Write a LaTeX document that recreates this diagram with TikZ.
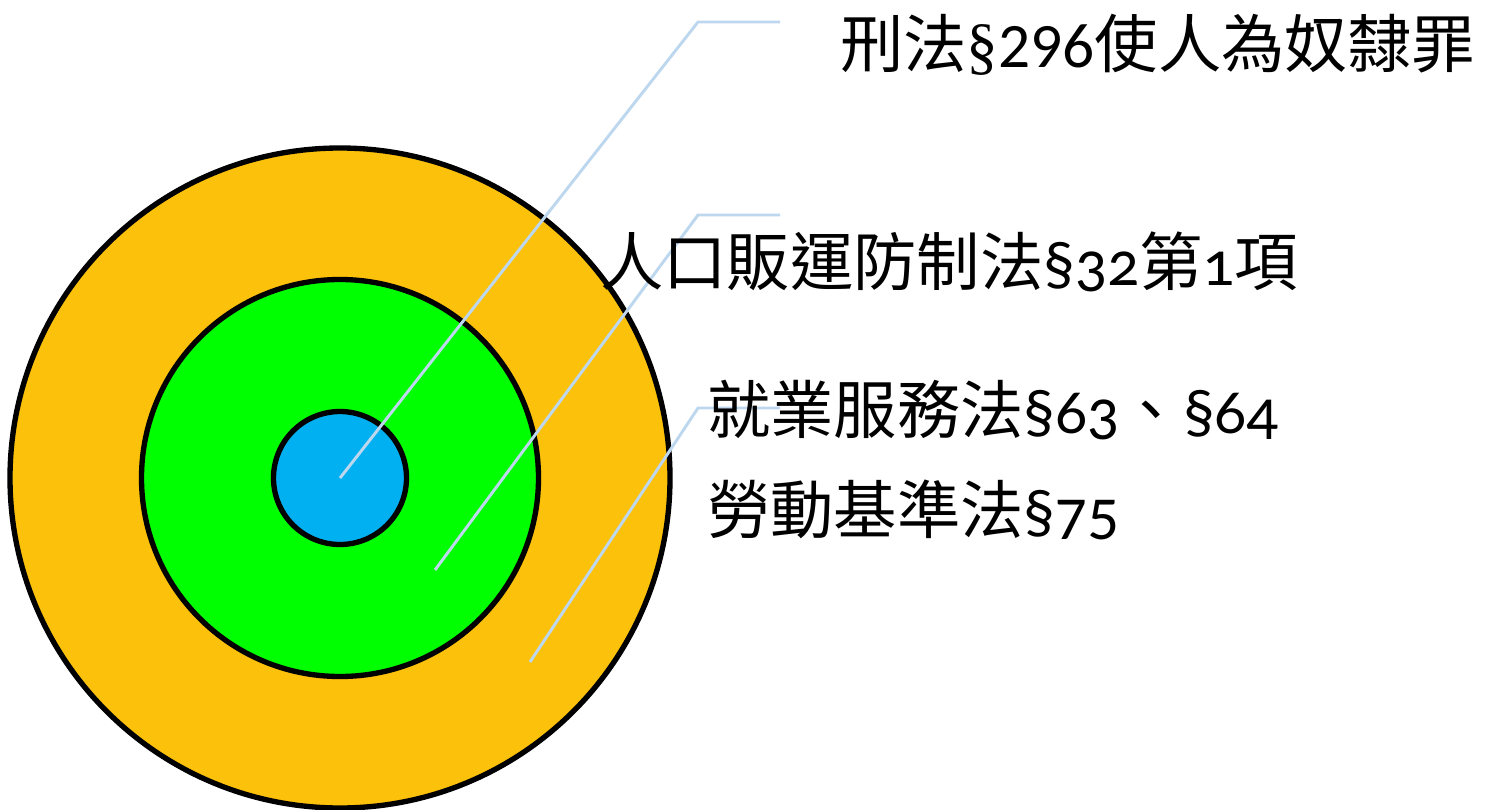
\documentclass[tikz,border=0pt]{standalone}
\usepackage{fontspec}
\setmainfont{Carlito}
\newfontfamily\cjk{Noto Sans CJK TC}
\newfontfamily\oldnum[Numbers=OldStyle]{Carlito}
\newfontfamily\serifsec{Liberation Serif}
\newcommand{\zh}[1]{{\cjk #1}}
\definecolor{ringorange}{HTML}{FCC10A}
\definecolor{ringgreen}{HTML}{00FF00}
\definecolor{ringblue}{HTML}{00B0F0}
\definecolor{leader}{HTML}{BDD7EE}
\begin{document}
\begin{tikzpicture}[x=0.75pt,y=-0.75pt,
  ring/.style={circle,draw=black,line width=4pt,inner sep=0pt},
  leaderline/.style={draw=leader,line width=2.2pt},
  lbl/.style={anchor=west,inner sep=0pt,font=\fontsize{47.5}{52}\selectfont}]
\useasboundingbox (0,0) rectangle (1489,810);
\node[ring,fill=ringorange,minimum size=660*0.75pt] (outer) at (340,478) {};
\node[ring,fill=ringgreen,minimum size=397*0.75pt] (mid) at (340,478) {};
\node[ring,fill=ringblue,minimum size=133*0.75pt] (inner) at (340,478) {};
\coordinate (p1) at (340,478);
\coordinate (k1) at (698,22);
\coordinate (e1) at (780,22);
\coordinate (p2) at (435,570);
\coordinate (k2) at (698,215);
\coordinate (e2) at (780,215);
\coordinate (p3) at (530,662);
\coordinate (k3) at (698,408);
\coordinate (e3) at (780,408);
\draw[leaderline] (p1) -- (k1) -- (e1);
\draw[leaderline] (p2) -- (k2) -- (e2);
\draw[leaderline] (p3) -- (k3) -- (e3);
\node[lbl] (t1) at (840,45) {\zh{刑法}{\serifsec §}296\zh{使人為奴隸罪}};
\node[lbl] (t2) at (600,262) {\zh{人口販運防制法}{\oldnum §32}\zh{第}{\oldnum 1}\zh{項}};
\node[lbl] (t3) at (707,410) {\zh{就業服務法}{\oldnum §63}\zh{、}{\oldnum §64}};
\node[lbl] (t4) at (707,510) {\zh{勞動基準法}{\oldnum §75}};
\end{tikzpicture}
\end{document}
